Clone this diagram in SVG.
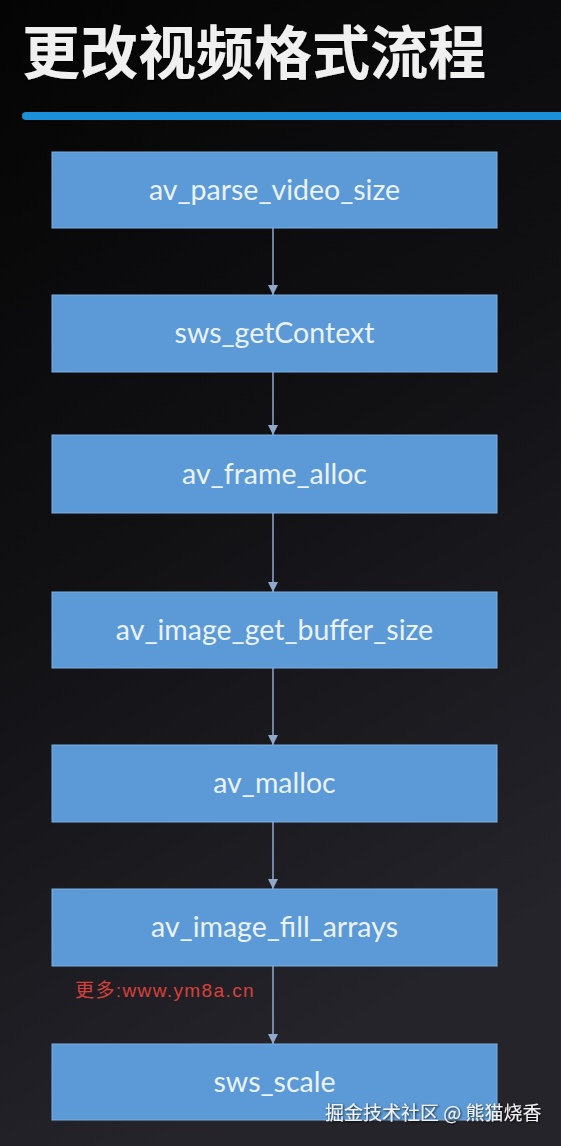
<svg xmlns="http://www.w3.org/2000/svg" width="561" height="1146" viewBox="0 0 561 1146">
<defs>
<linearGradient id="bg" x1="0" y1="0" x2="0.3" y2="1">
<stop offset="0" stop-color="#040404"/>
<stop offset="0.5" stop-color="#111013"/>
<stop offset="1" stop-color="#25242b"/>
</linearGradient>
<marker id="ah" viewBox="0 0 10 10" refX="10" refY="5" markerWidth="10" markerHeight="10" markerUnits="userSpaceOnUse" orient="auto">
<path d="M0,0 L10,5 L0,10 z" fill="#8fa8cc"/>
</marker>
<filter id="sh" x="-10%" y="-10%" width="120%" height="130%">
<feDropShadow dx="1" dy="1" stdDeviation="1" flood-color="#000" flood-opacity="0.8"/>
</filter>
</defs>
<style>
.box{fill:#5b9ad6;stroke:#7fb0e0;stroke-width:1}
.lbl{font-family:Lato,"Open Sans","Liberation Sans",sans-serif;font-size:28.5px;fill:#eaf2fb;text-anchor:middle}
.con{stroke:#8fa8cc;stroke-width:1.5;fill:none}
</style>
<rect width="561" height="1146" fill="url(#bg)"/>
<text x="22" y="74" font-family="'Noto Sans CJK SC',sans-serif" font-weight="bold" font-size="58" fill="#f0f0f0" filter="url(#sh)">更改视频格式流程</text>
<rect x="22" y="112" width="545" height="8" rx="4" fill="#1b90d8"/>
<g id="connectors">
<line class="con" x1="273" y1="228" x2="273" y2="295" marker-end="url(#ah)"/>
<line class="con" x1="273" y1="372" x2="273" y2="435" marker-end="url(#ah)"/>
<line class="con" x1="273" y1="513" x2="273" y2="592" marker-end="url(#ah)"/>
<line class="con" x1="273" y1="668" x2="273" y2="745" marker-end="url(#ah)"/>
<line class="con" x1="273" y1="822" x2="273" y2="889" marker-end="url(#ah)"/>
<line class="con" x1="273" y1="966" x2="273" y2="1044" marker-end="url(#ah)"/>
</g>
<g id="n1"><rect class="box" x="52" y="152" width="445" height="76"/><text class="lbl" x="274.5" y="200">av_parse_video_size</text></g>
<g id="n2"><rect class="box" x="52" y="295" width="445" height="77"/><text class="lbl" x="274.5" y="343">sws_getContext</text></g>
<g id="n3"><rect class="box" x="52" y="435" width="445" height="78"/><text class="lbl" x="274.5" y="484">av_frame_alloc</text></g>
<g id="n4"><rect class="box" x="52" y="592" width="445" height="76"/><text class="lbl" x="274.5" y="640">av_image_get_buffer_size</text></g>
<g id="n5"><rect class="box" x="52" y="745" width="445" height="77"/><text class="lbl" x="274.5" y="793">av_malloc</text></g>
<g id="n6"><rect class="box" x="52" y="889" width="445" height="77"/><text class="lbl" x="274.5" y="937">av_image_fill_arrays</text></g>
<g id="n7"><rect class="box" x="52" y="1044" width="445" height="76"/><text class="lbl" x="274.5" y="1092">sws_scale</text></g>
<text x="75" y="997" font-family="'Liberation Sans','Noto Sans CJK SC',sans-serif" font-size="19" letter-spacing="1.4" fill="#d8413a">更多:www.ym8a.cn</text>
<text x="325" y="1120" font-family="'Noto Sans CJK SC',sans-serif" font-size="19" fill="#f2f2f2" filter="url(#sh)">掘金技术社区 @ 熊猫烧香</text>
</svg>
